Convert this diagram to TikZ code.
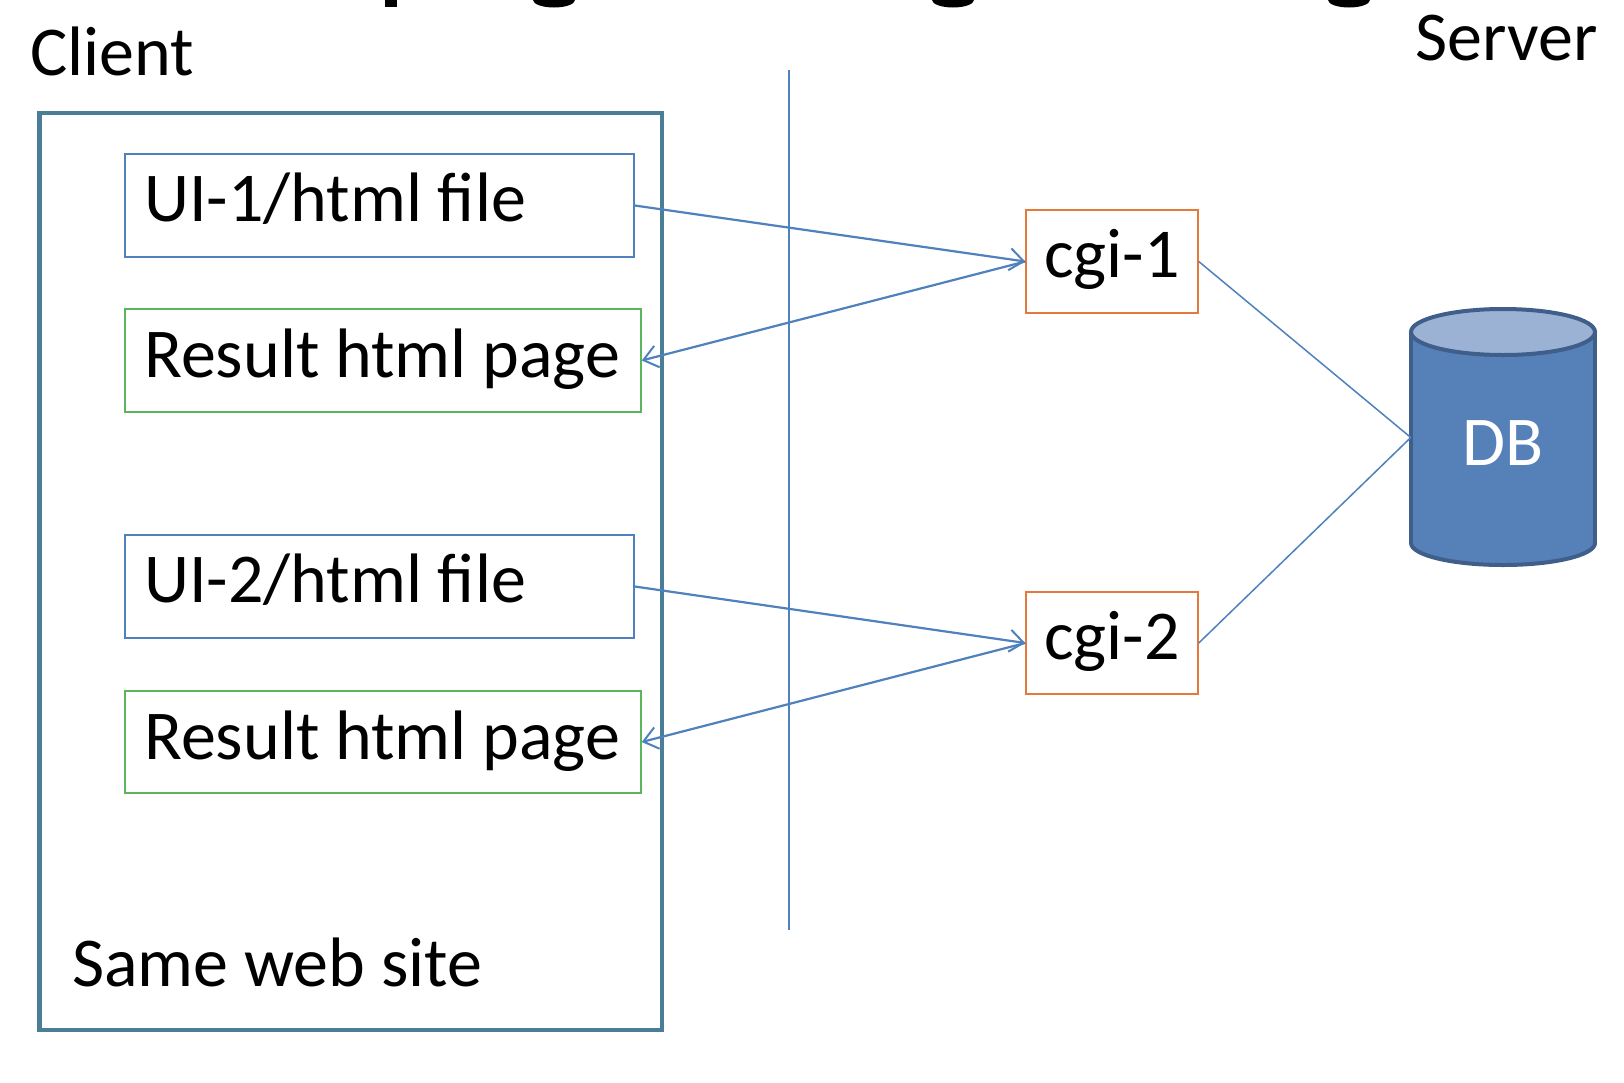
\documentclass[tikz,border=0pt]{standalone}
\usepackage{fontspec}
\setmainfont{Carlito}
\usetikzlibrary{arrows.meta}
\definecolor{outerc}{HTML}{4A7E96}
\definecolor{bluec}{HTML}{4F81BD}
\definecolor{greenc}{HTML}{5BB55B}
\definecolor{orangec}{HTML}{E47A3A}
\definecolor{dbbody}{HTML}{5680B8}
\definecolor{dbtop}{HTML}{9CB2D5}
\definecolor{dbline}{HTML}{3F5E8A}
\begin{document}
\begin{tikzpicture}[x=1pt,y=-1pt,
  lbl/.style={font=\fontsize{70}{84}\selectfont, inner sep=0pt, anchor=base west},
  boxblue/.style={draw=bluec, line width=1.5pt, inner sep=0pt},
  boxgreen/.style={draw=greenc, line width=1.5pt, inner sep=0pt},
  boxorange/.style={draw=orangec, line width=1.5pt, inner sep=0pt},
  outerbox/.style={draw=outerc, line width=4.5pt, inner sep=0pt},
  conn/.style={draw=bluec, line width=2.2pt, -{Straight Barb[length=14pt,width=22pt,line width=2pt]}},
  dbconn/.style={draw=bluec, line width=1.5pt},
  dbshape/.style={draw=dbline, line width=4pt},
]
\useasboundingbox (0,0) rectangle (1624,1082);
\fill[white] (0,0) rectangle (1624,1082);
% cut-off title descenders
\begin{scope}
\clip (0,0) rectangle (1624,1082);
\fill[black] (385,-2) rectangle (397,7);
\fill[black] (554,0) ellipse [x radius=21, y radius=7.5];
\fill[black] (953,0) ellipse [x radius=21, y radius=7.5];
\fill[black] (1349,0) ellipse [x radius=21, y radius=7.5];
\end{scope}
% headings
\node[lbl] (client) at (30,75) {Client};
\node[lbl] (server) at (1415,60) {Server};
% client box
\node[outerbox, minimum width=622.5pt, minimum height=917pt] (outer) at (350.75,571.5) {};
\node[lbl] (same) at (72,986) {Same web site};
% separator
\coordinate (vtop) at (789,70);
\coordinate (vbot) at (789,930);
\draw[bluec, line width=1.8pt] (vtop) -- (vbot);
% client boxes
\node[boxblue, minimum width=509pt, minimum height=103pt] (ui1) at (379.5,205.5) {};
\node[lbl] (ui1t) at (144,221) {UI-1/html file};
\node[boxgreen, minimum width=516pt, minimum height=103pt] (res1) at (383,360.5) {};
\node[lbl] (res1t) at (144,377) {Result html page};
\node[boxblue, minimum width=509pt, minimum height=103pt] (ui2) at (379.5,586.5) {};
\node[lbl] (ui2t) at (144,602) {UI-2/html file};
\node[boxgreen, minimum width=516pt, minimum height=102pt] (res2) at (383,742) {};
\node[lbl] (res2t) at (144,759) {Result html page};
% cgi boxes
\node[boxorange, minimum width=172pt, minimum height=103pt] (cgi1) at (1112,261.5) {};
\node[lbl] (cgi1t) at (1044,277) {cgi-1};
\node[boxorange, minimum width=172pt, minimum height=102pt] (cgi2) at (1112,643) {};
\node[lbl] (cgi2t) at (1044,659) {cgi-2};
% DB cylinder
\draw[dbshape, fill=dbbody] (1503,543) ellipse [x radius=92, y radius=22];
\fill[dbbody] (1411,332) rectangle (1595,543);
\draw[dbshape] (1411,332) -- (1411,543);
\draw[dbshape] (1595,332) -- (1595,543);
\draw[dbshape, fill=dbtop] (1503,332) ellipse [x radius=92, y radius=23];
\node[minimum width=184pt, minimum height=211pt, inner sep=0pt] (db) at (1503,437.5) {};
\node[font=\fontsize{70}{84}\selectfont, inner sep=0pt, anchor=base, text=white] (dbt) at (1503,465) {DB};
% connectors
\draw[conn] (ui1.east) -- (cgi1.west);
\draw[conn] (cgi1.west) -- (res1.east);
\draw[conn] (ui2.east) -- (cgi2.west);
\draw[conn] (cgi2.west) -- (res2.east);
\draw[dbconn] (cgi1.east) -- (db.west);
\draw[dbconn] (cgi2.east) -- (db.west);
\end{tikzpicture}
\end{document}
